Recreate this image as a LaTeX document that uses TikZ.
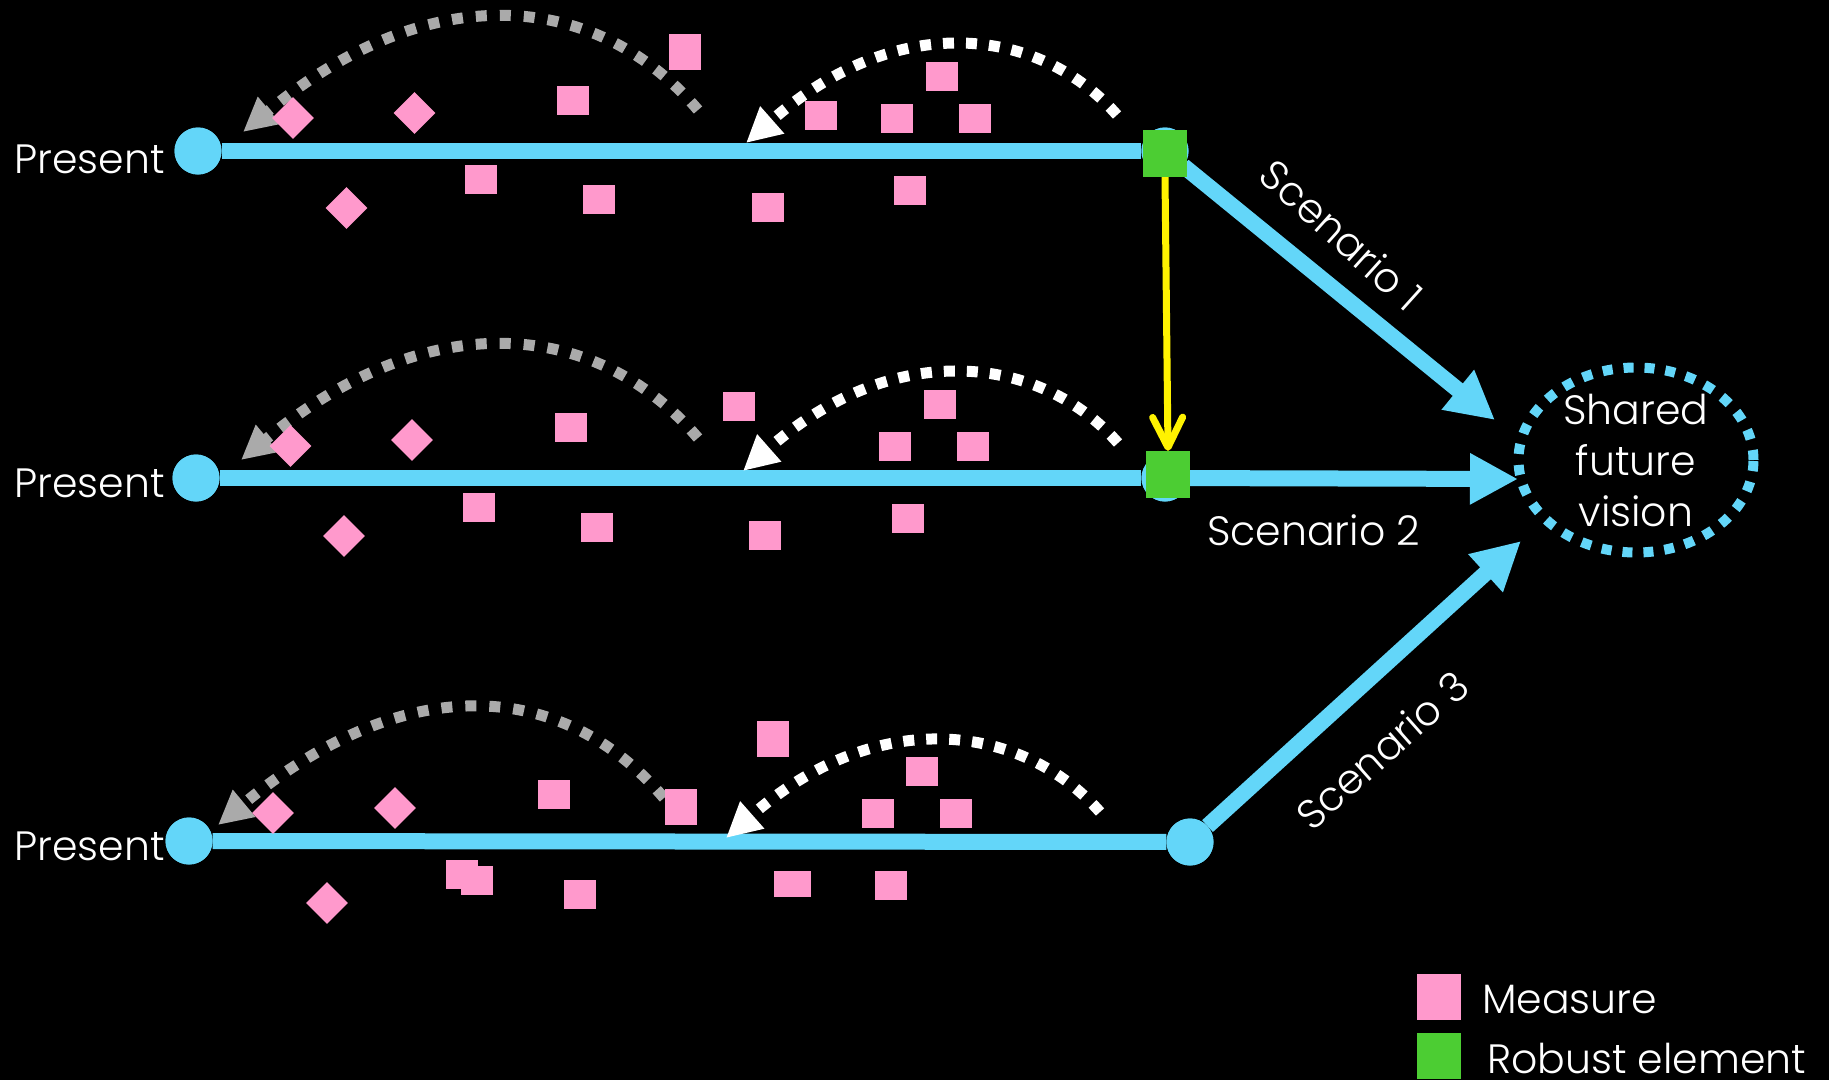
\documentclass[tikz,border=0pt]{standalone}
\usepackage{fontspec}
\setmainfont{Poppins Light}
\usetikzlibrary{arrows.meta,shapes.geometric}
\definecolor{tblue}{HTML}{63D6F9}
\definecolor{mpink}{HTML}{FF99CC}
\definecolor{rgreen}{HTML}{4CCD33}
\definecolor{agray}{HTML}{AAAAAA}
\begin{document}
\begin{tikzpicture}[x=1pt,y=-1pt,
  tl/.style={draw=tblue, line width=16pt},
  scen/.style={draw=tblue, line width=16pt, -{Triangle[length=48pt,width=48pt]}},
  tdot/.style={circle, fill=tblue, minimum size=47pt, inner sep=0pt},
  measure/.style={rectangle, fill=mpink, minimum width=32pt, minimum height=29pt, inner sep=0pt},
  tallmeasure/.style={measure, minimum height=36pt},
  gem/.style={diamond, fill=mpink, minimum width=42pt, minimum height=42pt, inner sep=0pt},
  robust/.style={rectangle, fill=rgreen, minimum width=44pt, minimum height=47pt, inner sep=0pt},
  garc/.style={draw=agray, line width=11pt, dash pattern=on 11pt off 13pt, -{Triangle[length=34pt,width=33pt]}},
  warc/.style={draw=white, line width=11pt, dash pattern=on 11pt off 12pt, -{Triangle[length=35pt,width=34pt]}},
  yel/.style={draw=yellow, line width=7pt, -{Straight Barb[length=30pt,width=30pt,round]}},
  lbl/.style={text=white, font=\fontsize{41}{51}\selectfont, inner sep=0pt},
]
\fill[black] (0,0) rectangle (1829,1080);
\useasboundingbox (0,0) rectangle (1829,1080);

% timeline nodes
\node[tdot] (p1) at (198,151) {};
\node[tdot] (p2) at (196,478) {};
\node[tdot] (p3) at (189,841) {};
\node[tdot] (e1) at (1165,151) {};
\node[tdot] (e2) at (1165,478) {};
\node[tdot] (e3) at (1190,842) {};
\coordinate (t1) at (1495,420);
\coordinate (t2) at (1518,479);
\coordinate (t3) at (1521,541);

\draw[tl] (p1) -- (e1);
\draw[tl] (p2) -- (e2);
\draw[tl] (p3) -- (e3);
\draw[scen] (e1) -- (t1);
\draw[scen] (e2) -- (t2);
\draw[scen] (e3) -- (t3);
\node[tdot] at (p1) {};
\node[tdot] at (p2) {};
\node[tdot] at (p3) {};
\node[tdot] at (e1) {};
\node[tdot] at (e2) {};
\node[tdot] at (e3) {};

% vision
\node[ellipse, draw=tblue, line width=10pt, dash pattern=on 10pt off 11pt,
      minimum width=235pt, minimum height=185pt, inner sep=0pt] (v) at (1636,460) {};
\node[lbl, align=center] (vt) at (v.center) {Shared\\future\\vision};

% backward arcs
\coordinate (gs1) at (698,110); \coordinate (gt1) at (243,132);
\coordinate (gs2) at (698,438); \coordinate (gt2) at (241,460);
\coordinate (gs3) at (664,798); \coordinate (gt3) at (218,825);
\coordinate (ws1) at (1117,115); \coordinate (wt1) at (746,143);
\coordinate (ws2) at (1118,443); \coordinate (wt2) at (743,471);
\coordinate (ws3) at (1100,812); \coordinate (wt3) at (726,838);
\draw[garc] (gs1) .. controls +(-104,-122) and +(184,-153) .. (gt1);
\draw[garc] (gs2) .. controls +(-104,-122) and +(184,-153) .. (gt2);
\draw[garc] (gs3) .. controls +(-104,-122) and +(184,-153) .. (gt3);
\draw[warc] (ws1) .. controls +(-77,-88) and +(152,-134) .. (wt1);
\draw[warc] (ws2) .. controls +(-77,-88) and +(152,-134) .. (wt2);
\draw[warc] (ws3) .. controls +(-77,-88) and +(152,-134) .. (wt3);

% measures (diamonds)
\foreach \x/\y [count=\i] in {293/118, 414.5/113, 346.5/208, 290.5/446, 412/440, 344/536, 273/813, 395/808, 327/903}
  \node[gem] (d\i) at (\x,\y) {};
% measures (squares)
\foreach \x/\y [count=\i] in {573/100.5, 480.5/179.5, 599/199.5, 768/207.5, 941.5/76.5, 821/115.5, 896.5/118.5, 975/118.5, 910/190.5,
  571/427.5, 739/406.5, 478.5/507.5, 597/527.5, 940/404.5, 895/446.5, 973/446.5, 765/535.5, 908/518.5,
  554/794.5, 461.5/874.5, 477/880.5, 580/894.5, 922/771.5, 878/813.5, 956/813.5, 891/885.5}
  \node[measure] (m\i) at (\x,\y) {};
\node[tallmeasure] (mt1) at (685,52) {};
\node[tallmeasure] (mt2) at (681,807) {};
\node[tallmeasure] (mt3) at (773,739) {};
\node[measure, minimum width=37pt, minimum height=26pt] (mw1) at (792,884) {};

% robust elements
\node[robust] (g1) at (1165,153.5) {};
\node[robust] (g2) at (1168,474.5) {};
\draw[yel] (g1.south) -- (g2.north);

% labels
\node[lbl, anchor=base west] (pr1) at (14,173) {Present};
\node[lbl, anchor=base west] (pr2) at (14,497) {Present};
\node[lbl, anchor=base west] (pr3) at (14,860) {Present};
\node[lbl, anchor=base west] (s2) at (1207,545) {Scenario 2};
\node[lbl, rotate=-42] (s1) at (1342,235) {Scenario 1};
\node[lbl, rotate=41.5] (s3) at (1382,750) {Scenario 3};

% legend
\node[measure, minimum width=44pt, minimum height=46pt] (lm) at (1439,997) {};
\node[robust, minimum width=44pt, minimum height=46pt] (lr) at (1439,1056) {};
\node[lbl, anchor=base west] (lmt) at (1482,1013) {Measure};
\node[lbl, anchor=base west] (lrt) at (1487,1073) {Robust element};
\end{tikzpicture}
\end{document}
